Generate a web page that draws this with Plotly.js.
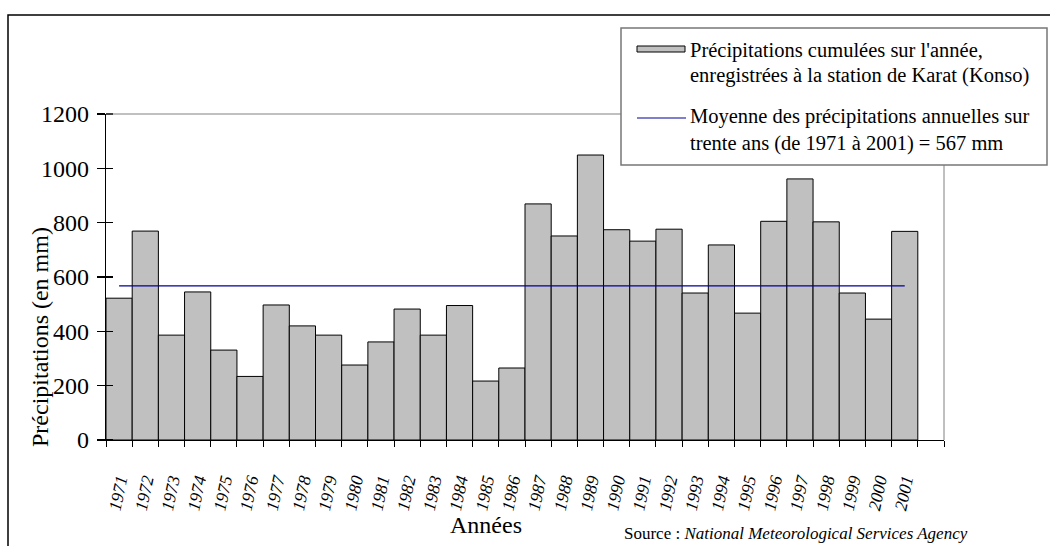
<!DOCTYPE html>
<html>
<head>
<meta charset="utf-8">
<script src="https://cdn.plot.ly/plotly-3.0.1.min.js"></script>
<style>html,body{margin:0;padding:0;background:#fff;}#chart{width:1050px;height:546px;}</style>
</head>
<body>
<div id="chart"></div>
<script>
// ---- data ----
const years = [1971,1972,1973,1974,1975,1976,1977,1978,1979,1980,1981,1982,1983,1984,1985,1986,
               1987,1988,1989,1990,1991,1992,1993,1994,1995,1996,1997,1998,1999,2000,2001];
const rainfall = [522,769,386,545,331,234,497,420,386,276,361,482,386,495,217,265,
                  869,751,1049,774,732,776,541,718,467,805,961,803,541,445,768];
const meanRainfall = 567;
const yTicks = [0,200,400,600,800,1000,1200];
const barLabel = ["Précipitations cumulées sur l'année,", "enregistrées à la station de Karat (Konso)"];
const lineLabel = ["Moyenne des précipitations annuelles sur", "trente ans (de 1971 à 2001) = 567 mm"];

// ---- layout geometry (pixels) ----
const W = 1050, H = 546, L = 106, R = 944, T = 114, B = 440;
const px = x => (x - L) / (R - L);
const py = y => (B - y) / (B - T);
const FONT = "Liberation Serif, serif";

const boundaries = years.map(y => y - 0.5).concat([years[years.length-1] + 0.5, years[years.length-1] + 1.5]);

const traces = [
  {
    type: 'bar', x: years, y: rainfall, width: 1,
    marker: {color: '#c0c0c0', line: {color: '#000', width: 1}},
    showlegend: false, hoverinfo: 'x+y'
  },
  {
    type: 'scatter', mode: 'lines',
    x: [years[0], years[years.length-1]], y: [meanRainfall, meanRainfall],
    line: {color: '#000099', width: 1.2}, showlegend: false
  }
];

const shapes = [
  // outer frame
  {type:'rect', xref:'paper', yref:'paper', x0: px(8), x1: px(1100), y0: py(600), y1: py(15),
   line:{color:'#000', width:1.5}, fillcolor:'rgba(0,0,0,0)', layer:'below'},
  // plot box top and right (gray)
  {type:'line', xref:'paper', yref:'paper', x0:0, x1:1, y0:1, y1:1, line:{color:'#808080', width:1}},
  {type:'line', xref:'paper', yref:'paper', x0:1, x1:1, y0:0, y1:1, line:{color:'#808080', width:1}},
  // legend box
  {type:'rect', xref:'paper', yref:'paper', x0: px(621), x1: px(1047), y0: py(165), y1: py(28),
   line:{color:'#777', width:1.5}, fillcolor:'#fff'},
  // legend bar symbol
  {type:'rect', xref:'paper', yref:'paper', x0: px(637), x1: px(685), y0: py(52), y1: py(46),
   line:{color:'#000', width:1}, fillcolor:'#c0c0c0'},
  // legend line symbol
  {type:'line', xref:'paper', yref:'paper', x0: px(637), x1: px(686), y0: py(118), y1: py(118),
   line:{color:'#000099', width:1.2}}
];

const ann = (x, y, text, opts) => Object.assign({
  xref:'paper', yref:'paper', x: px(x), y: py(y), text: text, showarrow:false,
  xanchor:'left', yanchor:'middle', font:{family:FONT, size:20.5, color:'#000'}
}, opts || {});

const annotations = [
  ann(688, 50, barLabel[0]),
  ann(688, 75, barLabel[1]),
  ann(688, 117, lineLabel[0]),
  ann(688, 143, lineLabel[1]),
  ann(40, 337, 'Précipitations (en mm)', {xanchor:'center', textangle:-90, font:{family:FONT, size:24, color:'#000'}}),
  ann(486, 525, 'Années', {xanchor:'center', font:{family:FONT, size:24, color:'#000'}}),
  ann(622, 533, 'Source : <i>National Meteorological Services Agency</i>', {font:{family:FONT, size:17, color:'#000'}})
];

const layout = {
  width: W, height: H,
  margin: {l: L, r: W - R, t: T, b: H - B, pad: 0},
  paper_bgcolor: '#fff', plot_bgcolor: '#fff',
  bargap: 0,
  font: {family: FONT, color: '#000'},
  xaxis: {
    type: 'linear', range: [years[0] - 0.5, years[years.length-1] + 1.5],
    tickvals: years, ticktext: years.map(String),
    ticks: '', tickangle: -78,
    tickfont: {family: FONT, size: 17.5, style: 'italic', color: '#000'},
    showline: true, linecolor: '#000', linewidth: 1.2,
    showgrid: false, zeroline: false, ticklabelstandoff: 22,
    minor: {tickvals: boundaries, ticks: 'outside', ticklen: 6, tickcolor: '#000', tickwidth: 1, showgrid: false}
  },
  yaxis: {
    range: [0, 1200], tickvals: yTicks, ticktext: yTicks.map(String),
    ticks: 'outside', ticklen: 8, tickcolor: '#000', tickwidth: 1.2,
    tickfont: {family: FONT, size: 24, color: '#000'},
    showline: true, linecolor: '#000', linewidth: 1.2,
    showgrid: false, zeroline: false, ticklabelstandoff: 3,
    minor: {tickvals: yTicks, ticks: 'inside', ticklen: 7, tickcolor: '#000', tickwidth: 1.2, showgrid: false}
  },
  shapes: shapes,
  annotations: annotations
};

Plotly.newPlot('chart', traces, layout, {displayModeBar: false, staticPlot: true});
</script>
</body>
</html>
